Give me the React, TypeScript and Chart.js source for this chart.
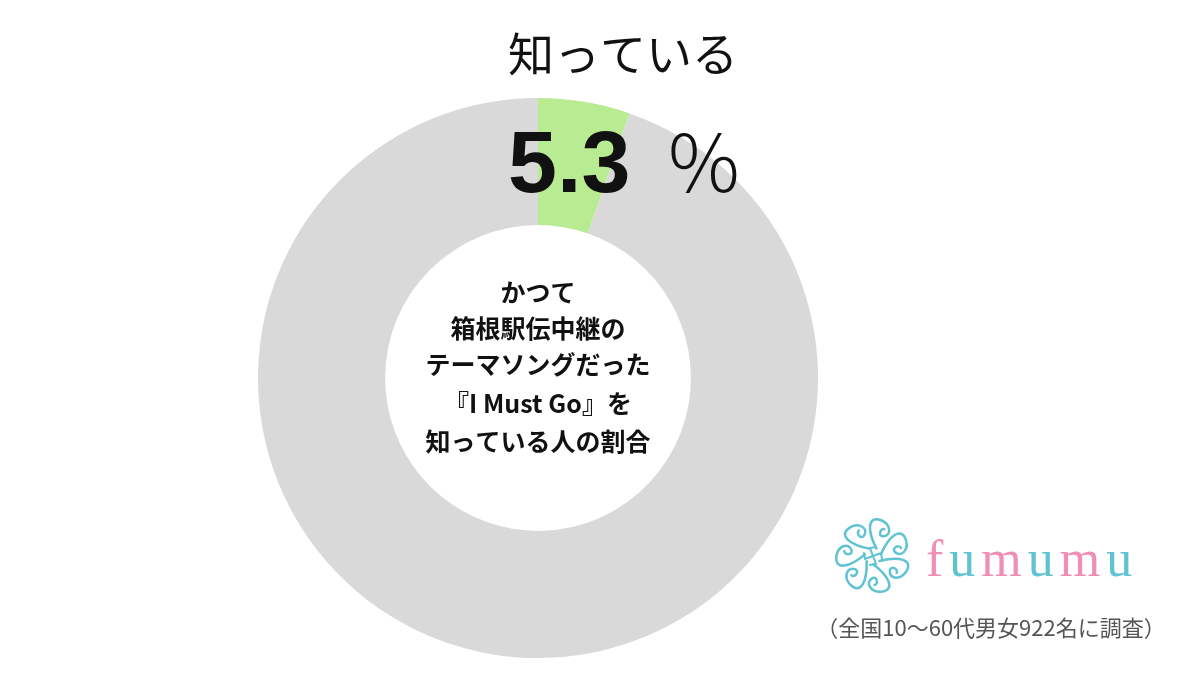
import React, { useEffect, useRef } from "react";
import { Chart, registerables } from "chart.js";

Chart.register(...registerables);

const categories = ["知っている", "知らない"];
const values = [5.3, 94.7];
const sliceColors = ["#b9eb92", "#d9d9d9"];
const topLabel = "知っている";
const valueLabel = "5.3";
const centerLines = [
  "かつて",
  "箱根駅伝中継の",
  "テーマソングだった",
  "『I Must Go』を",
  "知っている人の割合",
];
const brandLetters = ["f", "u", "m", "u", "m", "u"];
const brandColors = ["#ef8fb5", "#5fc3d3", "#ef8fb5", "#5fc3d3", "#ef8fb5", "#5fc3d3"];
const footnote = "（全国10〜60代男女922名に調査）";

const JP = '"Noto Sans CJK JP", "Noto Sans", sans-serif';

const overlayPlugin = {
  id: "overlay",
  afterDraw(chart: any) {
    const ctx = chart.ctx as CanvasRenderingContext2D;
    const meta = chart.getDatasetMeta(0);
    const arc = meta.data[0];
    const cx = arc.x;
    const cy = arc.y;
    ctx.save();
    // top label
    ctx.fillStyle = "#111";
    ctx.textAlign = "center";
    ctx.textBaseline = "middle";
    ctx.font = `400 46px ${JP}`;
    ctx.fillText(topLabel, 623, 54);
    // big value
    ctx.textAlign = "left";
    ctx.textBaseline = "alphabetic";
    ctx.font = `bold 88px "Liberation Sans", Arial, sans-serif`;
    ctx.fillText(valueLabel, 508, 192);
    ctx.font = `300 80px ${JP}`;
    ctx.textAlign = "center";
    ctx.fillText("%", 704, 192);
    // center lines
    ctx.font = `bold 25px ${JP}`;
    ctx.textBaseline = "middle";
    const ys = [-86, -50, -14, 25, 63];
    centerLines.forEach((t, i) => ctx.fillText(t, cx, cy + ys[i]));
    // brand
    ctx.font = `400 52px "Liberation Serif", "DejaVu Serif", serif`;
    ctx.textAlign = "left";
    ctx.textBaseline = "alphabetic";
    let x = 926;
    brandLetters.forEach((ch, i) => {
      ctx.fillStyle = brandColors[i];
      ctx.fillText(ch, x, 576);
      x += ctx.measureText(ch).width + 6;
    });
    // flower icon
    const fx = 873, fy = 556;
    ctx.strokeStyle = "#5fc3d3";
    ctx.lineWidth = 2.5;
    ctx.lineCap = "round";
    for (let k = 0; k < 7; k++) {
      const a = (k * 2 * Math.PI) / 7;
      ctx.save();
      ctx.translate(fx, fy);
      ctx.rotate(a);
      ctx.beginPath();
      ctx.moveTo(8, -2);
      ctx.bezierCurveTo(16, -20, 28, -30, 33, -16);
      ctx.bezierCurveTo(36, -6, 28, 2, 22, -4);
      ctx.bezierCurveTo(18, -8, 26, -12, 28, -8);
      ctx.stroke();
      ctx.restore();
    }
    ctx.lineWidth = 2;
    for (let k = 0; k < 4; k++) {
      const a = (k * Math.PI) / 2;
      ctx.save();
      ctx.translate(fx, fy);
      ctx.rotate(a);
      ctx.beginPath();
      ctx.moveTo(0, 0);
      ctx.lineTo(8, -3);
      ctx.lineTo(9, 3);
      ctx.stroke();
      ctx.restore();
    }
    // footnote
    ctx.fillStyle = "#555";
    ctx.font = `400 22px ${JP}`;
    ctx.textAlign = "center";
    ctx.textBaseline = "middle";
    ctx.fillText(footnote, 991, 628);
    ctx.restore();
  },
};

export default function App() {
  const ref = useRef<HTMLCanvasElement | null>(null);
  useEffect(() => {
    document.body.style.margin = "0";
    const chart = new Chart(ref.current as HTMLCanvasElement, {
      type: "doughnut",
      data: {
        labels: categories,
        datasets: [
          {
            data: values,
            backgroundColor: sliceColors,
            borderWidth: 0,
          },
        ],
      },
      options: {
        animation: false,
        responsive: false,
        cutout: "54.6%",
        layout: { padding: { top: 98, bottom: 32, left: 258, right: 382 } },
        plugins: { legend: { display: false }, tooltip: { enabled: false } },
      },
      plugins: [overlayPlugin],
    });
    return () => chart.destroy();
  }, []);
  return (
    <div style={{ width: 1200, height: 690, background: "#fff" }}>
      <canvas ref={ref} width={1200} height={690} style={{ display: "block" }} />
    </div>
  );
}
